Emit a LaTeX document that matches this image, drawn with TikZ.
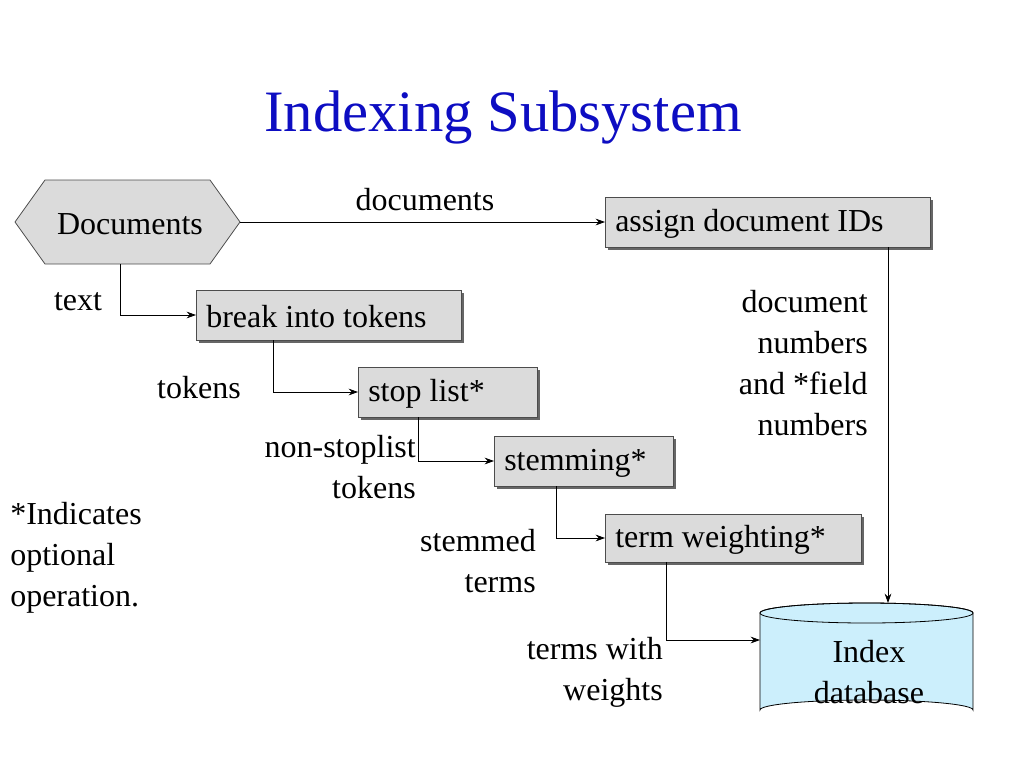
\documentclass[tikz,border=0pt]{standalone}
\usepackage{fontspec}
\setmainfont{Liberation Serif}
\usetikzlibrary{arrows.meta}
\begin{document}
\begin{tikzpicture}[x=0.75pt,y=-0.75pt,
  txt/.style={font=\fontsize{24}{30.75}\selectfont, inner sep=0pt},
  box/.style={draw=black!70, fill=black!14, line width=0.6pt},
  shadow/.style={fill=black!60},
  con/.style={draw=black, line width=0.6pt, -{Stealth[length=7pt,width=5pt]}}]
\useasboundingbox (0,0) rectangle (1024,768);
\node[txt, font=\fontsize{44}{50}\selectfont, text=blue!75!black!95!white, anchor=base] (title) at (503,131) {Indexing Subsystem};
% hexagon
\draw[box] (15,222) -- (45,180) -- (210,180) -- (240,222) -- (210,264) -- (45,264) -- cycle;
\node[txt] (docs) at (130,224) {Documents};
\coordinate (hexR) at (240,222);
\coordinate (hexB) at (120,264);
% boxes with shadows
\newcommand{\shbox}[6]{%
  \fill[shadow] (#1+3,#2+3) rectangle (#3+3,#4+3);
  \draw[box] (#1,#2) rectangle (#3,#4);
  \node[txt, anchor=west] (#5) at (#1+10,{(#2+#4)/2+2}) {#6};
  \coordinate (#5-l) at (#1,{(#2+#4)/2});}
\shbox{605}{197}{930}{247}{assign}{assign document IDs}
\shbox{196}{290}{461}{340}{break}{break into tokens}
\shbox{358}{367}{537}{417}{stop}{stop list*}
\shbox{494}{436}{673}{486}{stem}{stemming*}
\shbox{605}{514}{861}{562}{weight}{term weighting*}
% cylinder
\draw[line width=0.6pt, fill=cyan!20] (760,613) -- (760,710) arc[start angle=180,end angle=360,x radius=106.5,y radius=10] -- (973,613) arc[start angle=0,end angle=-180,x radius=106.5,y radius=10] -- cycle;
\draw[line width=0.6pt] (760,613) arc[start angle=180,end angle=540,x radius=106.5,y radius=10];
\node[txt, align=center] (db) at (869,672) {Index\\database};
\coordinate (dbTop) at (888,603);
\coordinate (dbL) at (760,640);
% connectors
\draw[con] (hexR) -- (assign-l);
\draw[con] (hexB) |- (break-l);
\draw[con] (273,340) |- (stop-l);
\draw[con] (418,417) |- (stem-l);
\draw[con] (556,486) |- (weight-l);
\draw[con] (666,562) |- (dbL);
\draw[con] (888,247) -- (dbTop);
% labels
\node[txt] (l1) at (425,200) {documents};
\node[txt] (l2) at (78,302) {text};
\node[txt] (l3) at (199,388) {tokens};
\node[txt, align=right, anchor=east] (l4) at (416,467) {non-stoplist\\tokens};
\node[txt, align=right, anchor=east] (l5) at (536,561) {stemmed\\terms};
\node[txt, align=right, anchor=east] (l6) at (663,672) {terms with\\weights};
\node[txt, align=right, anchor=east] (l7) at (868,363) {document\\numbers\\and *field\\numbers};
\node[txt, align=left, anchor=west] (l8) at (10,558) {*Indicates\\optional\\operation.};
\end{tikzpicture}
\end{document}
